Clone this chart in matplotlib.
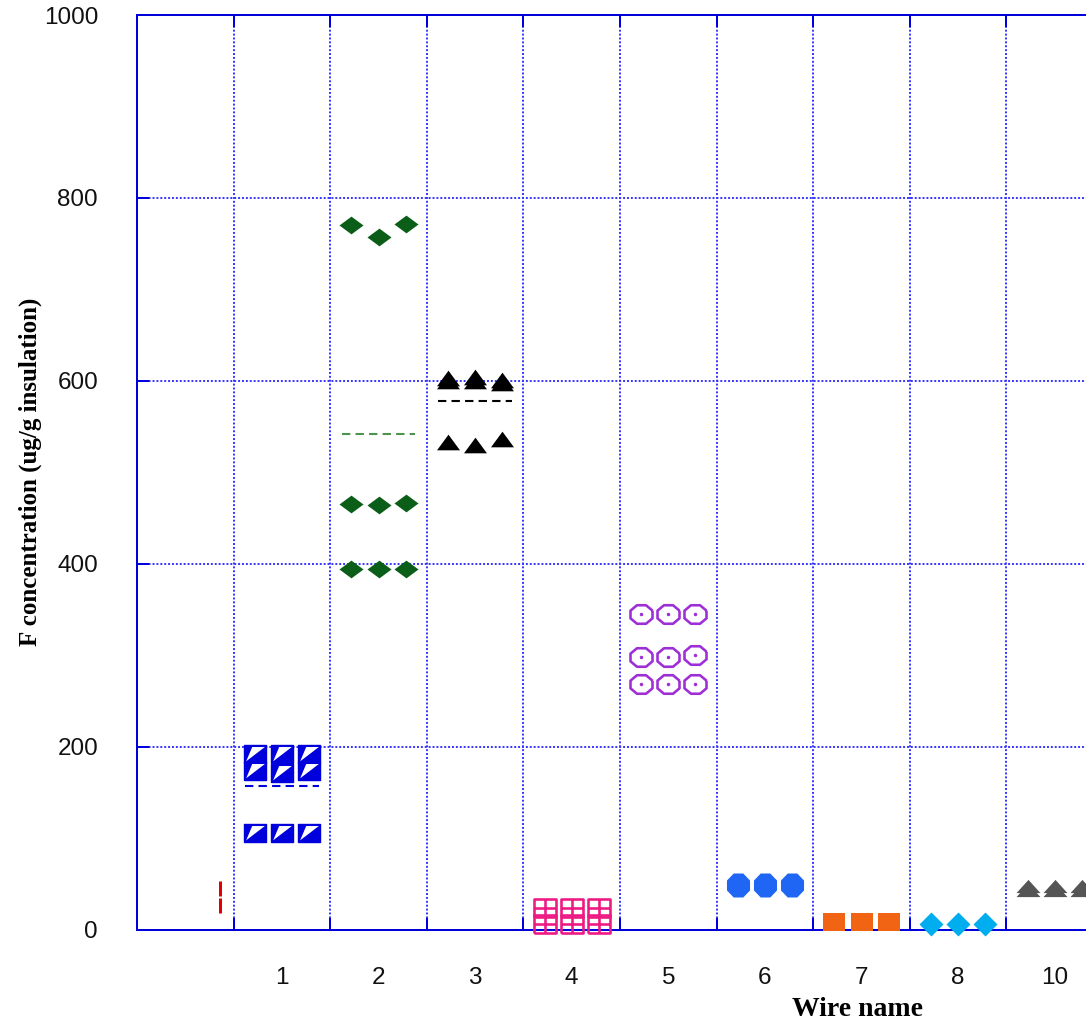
import numpy as np
import matplotlib.pyplot as plt
from matplotlib.path import Path

# wire names on the x axis, one cell each (cell 0 has no name)
wire_labels = ['1', '2', '3', '4', '5', '6', '7', '8', '10']

# F- values, rows of three samples per wire
red_vals = [45, 27]
w1_rows = [[192, 192, 192], [173, 171, 173], [105, 105, 105]]
w2_rows = [[770, 757, 772], [465, 464, 466], [394, 394, 394]]
w3_rows = [[603, 604, 601], [600, 600, 598], [533, 530, 536]]
w4_rows = [[24, 24, 24], [6, 6, 6]]
w5_rows = [[345, 345, 345], [298, 298, 300], [268, 268, 268]]
w6_rows = [[49, 49, 49]]
w7_rows = [[8, 8, 8]]
w8_rows = [[6, 6, 6]]
w10_rows = [[48, 48, 48], [43, 43, 43]]

y_ticks = [0, 200, 400, 600, 800, 1000]

# layout
offsets = np.array([-0.28, 0.0, 0.28])
red_offset = 0.36
blue = '#0000dd'
gridblue = '#3535ff'
px = 0.72  # points per pixel at dpi 100


def rect(h):
    return [(-1, -h), (1, -h), (1, h), (-1, h), (-1, -h)]


def diamond(h):
    return [(-1, 0), (0, h), (1, 0), (0, -h), (-1, 0)]


def tri(h):
    return [(-1, -h), (1, -h), (0, h), (-1, -h)]


def octagon(h):
    a = np.deg2rad(22.5 + 45 * np.arange(8))
    r = 1 / np.cos(np.deg2rad(22.5))
    v = np.c_[r * np.cos(a), r * np.sin(a) * h]
    return np.vstack([v, v[:1]])


def grid_square(h):
    verts = rect(h) + [(0, -h), (0, h), (-1, 0), (1, 0)]
    codes = [Path.MOVETO] + [Path.LINETO] * 4 + [Path.MOVETO, Path.LINETO,
                                                  Path.MOVETO, Path.LINETO]
    return Path(verts, codes)


fig = plt.figure(figsize=(10.86, 10.21), dpi=100)
ax = fig.add_axes([137 / 1086, (1021 - 929.5) / 1021, 966 / 1086, 914.5 / 1021])
ax.set_xlim(-0.5, 9.5)
ax.set_ylim(0, 1000)

kw = dict(linestyle='none', clip_on=False, zorder=4)


def draw(pos, rows, **style):
    for row in rows:
        ax.plot(pos + offsets, row, **kw, **style)


def mean_line(pos, rows, color):
    m = np.mean(rows)
    ax.plot([pos - 0.38, pos + 0.38], [m, m], color=color, lw=1.5,
            dashes=(4, 2.5), zorder=3)


# cell 0: only a sliver of red is visible
ax.plot([red_offset] * len(red_vals), red_vals, marker='|', color='#e00000',
        ms=15 * px, mew=3 * px, **kw)

# wire 1: blue squares with a white wedge
sq = rect(0.81)
wedge = [(-0.85, -0.62), (0.85, 0.68), (-0.3, 0.68), (-0.85, -0.62)]
draw(1, w1_rows, marker=sq, ms=22 * px, color=blue, mec=blue)
draw(1, w1_rows, marker=wedge, ms=22 * px * 0.85, color='white', mew=0)
mean_line(1, w1_rows, blue)

# wire 2: dark green diamonds
draw(2, w2_rows, marker=diamond(0.74), ms=24 * px, color='#0b5e17', mew=0)
mean_line(2, w2_rows, '#4c944c')

# wire 3: black triangles
draw(3, w3_rows, marker=tri(0.68), ms=23 * px, color='black', mew=0)
mean_line(3, w3_rows, 'black')

# wire 4: pink grid squares
draw(4, w4_rows, marker=grid_square(0.78), ms=22 * px, mfc='none',
     mec='#ee1a84', mew=2.6 * px)

# wire 5: purple rings with a dot
draw(5, w5_rows, marker=octagon(0.84), ms=22 * px, mfc='white',
     mec='#9e2fd6', mew=2.6 * px)
draw(5, w5_rows, marker='o', ms=3.5 * px, color='#9e2fd6', mew=0)

# wire 6: blue octagons
draw(6, w6_rows, marker=octagon(1.04), ms=24 * px, color='#1f66f5', mew=0)

# wire 7: orange squares
draw(7, w7_rows, marker=rect(0.82), ms=22 * px, color='#f06414', mew=0)

# wire 8: cyan diamonds
draw(8, w8_rows, marker=diamond(1.0), ms=24 * px, color='#00aeef', mew=0)

# wire 10: grey triangles
draw(9, w10_rows, marker=tri(0.55), ms=24 * px, color='#555555', mew=0)

# axes, ticks and grid
cells = np.arange(len(wire_labels) + 1)
ax.set_xticks(cells[:-1] + 0.5)
ax.set_xticklabels([])
ax.set_xticks(cells[1:], wire_labels, minor=True)
ax.set_yticks(y_ticks)
ax.set_yticklabels([str(v) for v in y_ticks])

ax.tick_params(which='major', direction='in', length=12 * px, width=2 * px,
               color=blue, top=True, right=True, pad=28)
ax.tick_params(which='minor', length=0, pad=27)
for lab in ax.get_xticklabels(minor=True) + ax.get_yticklabels():
    lab.set_family('Liberation Sans')
    lab.set_fontsize(17.5)
    lab.set_color('#111111')

ax.grid(True, which='major', color=gridblue, lw=1.4, linestyle=(0, (1, 1)))
ax.set_axisbelow(True)
for s in ax.spines.values():
    s.set_color(blue)
    s.set_linewidth(2 * px)

fig.text(858 / 1086, 1 - 1009 / 1021, 'Wire name', ha='center', va='center',
         family='Liberation Serif', weight='bold', fontsize=20)
fig.text(30 / 1086, 1 - 472 / 1021, 'F concentration (ug/g insulation)',
         rotation=90, ha='center', va='center', family='Liberation Serif',
         weight='bold', fontsize=18)

fig.savefig('out.png', dpi=100)
